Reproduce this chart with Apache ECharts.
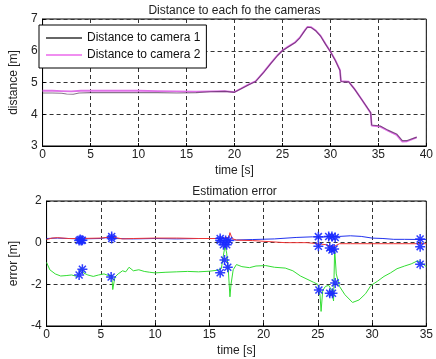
<!DOCTYPE html>
<html>
<head>
<meta charset="utf-8">
<script src="https://cdn.jsdelivr.net/npm/echarts@6/dist/echarts.min.js"></script>
<style>
  html, body { margin: 0; padding: 0; background: #fff; }
  #chart { width: 436px; height: 359px; }
</style>
</head>
<body>
<div id="chart"></div>
<script>
// top plot: distance to each camera, [time s, distance m]
var cam1 = [[0,4.67],[1,4.67],[2,4.66],[2.5,4.64],[3.2,4.63],[3.8,4.67],[5,4.68],[7,4.68],[8.3,4.68],[8.5,4.71],[8.8,4.68],
  [10,4.68],[12,4.68],[14,4.67],[16,4.68],[17.5,4.71],[19,4.72],[20,4.69],[20.7,4.8],[21.5,4.93],[22.2,5.03],[23,5.3],
  [23.8,5.6],[24.5,5.85],[25,6.0],[25.6,6.12],[26.3,6.25],[26.8,6.4],[27.3,6.62],[27.6,6.74],[28,6.73],[28.5,6.62],
  [29,6.45],[29.5,6.2],[30,5.97],[30.5,5.7],[31.0,5.38],[31.1,5.03],[31.9,5.02],[32.5,4.8],[33.3,4.45],[34.2,4.05],
  [34.3,3.66],[35.2,3.63],[36,3.5],[36.9,3.38],[37.5,3.17],[38,3.17],[39,3.28]];
var cam2 = [[0,4.74],[1,4.74],[2,4.73],[3,4.72],[4,4.74],[6,4.74],[8,4.74],[10,4.74],[12,4.73],[14,4.72],[16,4.71],
  [17.5,4.72],[19,4.73],[20,4.7],[20.7,4.81],[21.5,4.94],[22.2,5.04],[23,5.31],[23.8,5.61],[24.5,5.86],[25,6.01],
  [25.6,6.13],[26.3,6.26],[26.8,6.41],[27.3,6.63],[27.6,6.75],[28,6.74],[28.5,6.63],[29,6.46],[29.5,6.21],[30,5.98],
  [30.5,5.71],[31.0,5.39],[31.1,5.04],[31.9,5.03],[32.5,4.8],[33.3,4.45],[34.2,4.04],[34.3,3.64],[35.2,3.61],
  [36,3.48],[36.9,3.35],[37.5,3.14],[38,3.15],[39,3.27]];

// bottom plot: estimation error, [time s, error m]
var errBlue = [[0,0.2],[1,0.22],[3,0.18],[5,0.2],[6,0.28],[6.3,0.2],[8,0.18],[10,0.2],[12,0.18],[14,0.2],[16,0.2],
  [16.5,0.18],[17,0.12],[17.5,0.13],[19,0.15],[21,0.18],[23,0.25],[24.5,0.28],[25.5,0.27],[26,0.3],[27,0.3],
  [28,0.33],[29,0.3],[30,0.22],[31,0.2],[32,0.16],[33,0.16],[35,0.15]];
var errRed = [[0,0.15],[0.5,0.22],[1,0.24],[2,0.2],[3,0.2],[5,0.22],[6,0.28],[7,0.18],[8,0.2],[10,0.22],[12,0.22],
  [14,0.2],[16,0.2],[16.8,0.25],[16.9,0.48],[17.1,0.2],[17.5,0.12],[19,0.1],[20.5,0.05],[22,0.0],[24,0.0],
  [25,-0.05],[25.8,-0.1],[26.3,-0.2],[26.6,-0.15],[27,-0.05],[28,-0.05],[30,-0.05],[32,-0.05],[35,-0.05]];
var errGreen = [[0,-0.95],[0.3,-1.3],[0.8,-1.5],[1.3,-1.6],[1.8,-1.58],[2.3,-1.55],[2.8,-1.62],[3.0,-1.5],[3.2,-1.2],
  [3.4,-1.45],[3.8,-1.55],[4.3,-1.62],[4.8,-1.55],[5.3,-1.5],[5.8,-1.6],[6.0,-1.55],[6.1,-2.25],[6.3,-1.65],[6.6,-1.5],
  [7.0,-1.35],[7.3,-1.4],[7.6,-1.18],[8.0,-1.35],[8.5,-1.3],[9,-1.38],[9.5,-1.42],[10,-1.45],[11,-1.42],[12,-1.4],
  [13,-1.38],[14,-1.4],[15,-1.37],[15.8,-1.32],[16.1,-1.25],[16.3,-0.6],[16.45,-0.15],[16.6,-0.5],[16.75,-1.3],
  [16.9,-2.6],[17.0,-2.0],[17.2,-1.3],[17.5,-1.05],[18,-1.15],[18.7,-1.2],[19.3,-1.12],[20.2,-1.1],[21,-1.18],
  [22,-1.22],[22.7,-1.35],[23.4,-1.6],[24,-1.75],[24.6,-1.9],[25.0,-2.0],[25.2,-2.5],[25.3,-3.3],[25.45,-2.3],
  [25.7,-2.1],[26.0,-2.05],[26.3,-2.3],[26.45,-2.8],[26.55,-0.3],[26.7,-1.5],[27,-2.1],[27.5,-2.5],[28.2,-2.87],
  [28.8,-2.75],[29.4,-2.45],[29.9,-2.05],[30.5,-1.85],[31.1,-1.62],[31.7,-1.45],[32.3,-1.25],[33,-1.12],
  [33.6,-1.02],[34.2,-0.87],[34.5,-0.95],[35,-1.15]];
var marks = [[3.0,0.1],[3.1,0.15],[3.2,0.1],[3.3,0.12],[3.0,-1.55],[3.3,-1.28],[6.0,0.3],[6.0,0.2],[5.95,-1.65],
  [16.0,0.2],[16.0,0.1],[16.3,-0.1],[16.5,0.1],[16.8,0.1],[16.6,-0.1],[16.4,-0.83],[16.7,-1.18],[16.0,-1.44],
  [25.05,0.29],[25.05,-0.17],[25.1,-2.27],[26.0,0.3],[26.3,0.3],[26.6,0.25],[26.1,-0.25],[26.3,-0.35],[26.5,-0.3],
  [26.1,-2.43],[26.35,-2.43],[26.6,-1.93],[34.43,0.18],[34.43,-0.19],[34.43,-1.04]];

var xTop = { min: 0, max: 40, interval: 5 };
var yTop = { min: 3, max: 7, interval: 1 };
var xBot = { min: 0, max: 35, interval: 5 };
var yBot = { min: -4, max: 2, interval: 2 };

var font = 'Liberation Sans';
var txt = { fontFamily: font, fontSize: 12, color: '#222' };
var dash = { show: true, lineStyle: { color: '#333', type: [4, 3], width: 1 } };
var star = 'path://M0,-1L0,1M-1,0L1,0M-0.7,-0.7L0.7,0.7M-0.7,0.7L0.7,-0.7';

function xa(g, s) {
  return { type: 'value', gridIndex: g, min: s.min, max: s.max, interval: s.interval,
    name: 'time [s]', nameLocation: 'middle', nameGap: 19, nameTextStyle: txt,
    axisLine: { onZero: false, lineStyle: { color: '#000' } },
    axisTick: { inside: true, length: 3, lineStyle: { color: '#000' } },
    axisLabel: Object.assign({ margin: 3 }, txt), splitLine: dash };
}
function ya(g, s, nm) {
  return { type: 'value', gridIndex: g, min: s.min, max: s.max, interval: s.interval,
    name: nm, nameLocation: 'middle', nameGap: 18, nameTextStyle: txt,
    axisLine: { show: true, onZero: false, lineStyle: { color: '#000' } },
    axisTick: { show: true, inside: true, length: 3, lineStyle: { color: '#000' } },
    axisLabel: Object.assign({ margin: 5 }, txt), splitLine: dash };
}

var chart = echarts.init(document.getElementById('chart'));
chart.setOption({
  animation: false,
  backgroundColor: '#fff',
  title: [
    { text: 'Distance to each fo the cameras', left: 229.5, textAlign: 'center', top: 0,
      textStyle: { fontFamily: font, fontSize: 12, fontWeight: 'normal', color: '#222' } },
    { text: 'Estimation error', left: 229.5, textAlign: 'center', top: 181,
      textStyle: { fontFamily: font, fontSize: 12, fontWeight: 'normal', color: '#222' } }
  ],
  legend: {
    left: 39, top: 25, orient: 'vertical', width: 165,
    padding: [6, 6, 6, 7], itemGap: 3, itemWidth: 36, itemHeight: 2, icon: 'rect',
    borderColor: '#000', borderWidth: 1, backgroundColor: '#fff',
    textStyle: { fontFamily: font, fontSize: 12, color: '#111', lineHeight: 14 },
    data: [
      { name: 'Distance to camera 1', itemStyle: { color: '#666' } },
      { name: 'Distance to camera 2', itemStyle: { color: '#f08ef0' } }
    ]
  },
  grid: [
    { left: 32, right: 9, top: 19, height: 127, show: true, borderColor: '#000', borderWidth: 1 },
    { left: 32, right: 9, top: 201, height: 125, show: true, borderColor: '#000', borderWidth: 1 }
  ],
  xAxis: [xa(0, xTop), xa(1, xBot)],
  yAxis: [ya(0, yTop, 'distance [m]'), ya(1, yBot, 'error [m]')],
  series: [
    { name: 'Distance to camera 2', type: 'line', xAxisIndex: 0, yAxisIndex: 0, data: cam2, symbol: 'none',
      lineStyle: { color: '#e070e8', width: 1.8 }, itemStyle: { color: '#e070e8' }, z: 2 },
    { name: 'Distance to camera 1', type: 'line', xAxisIndex: 0, yAxisIndex: 0, data: cam1, symbol: 'none',
      lineStyle: { color: '#3a1a40', width: 1.1, opacity: 0.6 }, itemStyle: { color: '#555' }, z: 3 },
    { name: 'green', type: 'line', xAxisIndex: 1, yAxisIndex: 1, data: errGreen, symbol: 'none',
      lineStyle: { color: '#33dd33', width: 1 } },
    { name: 'blue', type: 'line', xAxisIndex: 1, yAxisIndex: 1, data: errBlue, symbol: 'none',
      lineStyle: { color: '#2233ee', width: 1 } },
    { name: 'red', type: 'line', xAxisIndex: 1, yAxisIndex: 1, data: errRed, symbol: 'none',
      lineStyle: { color: '#ee3333', width: 1 } },
    { name: 'marks', type: 'scatter', xAxisIndex: 1, yAxisIndex: 1, data: marks, symbol: star, symbolSize: 10,
      itemStyle: { color: 'none', borderColor: '#1a2aff', borderWidth: 1.5, opacity: 0.9 }, z: 5 }
  ]
});
</script>
</body>
</html>
